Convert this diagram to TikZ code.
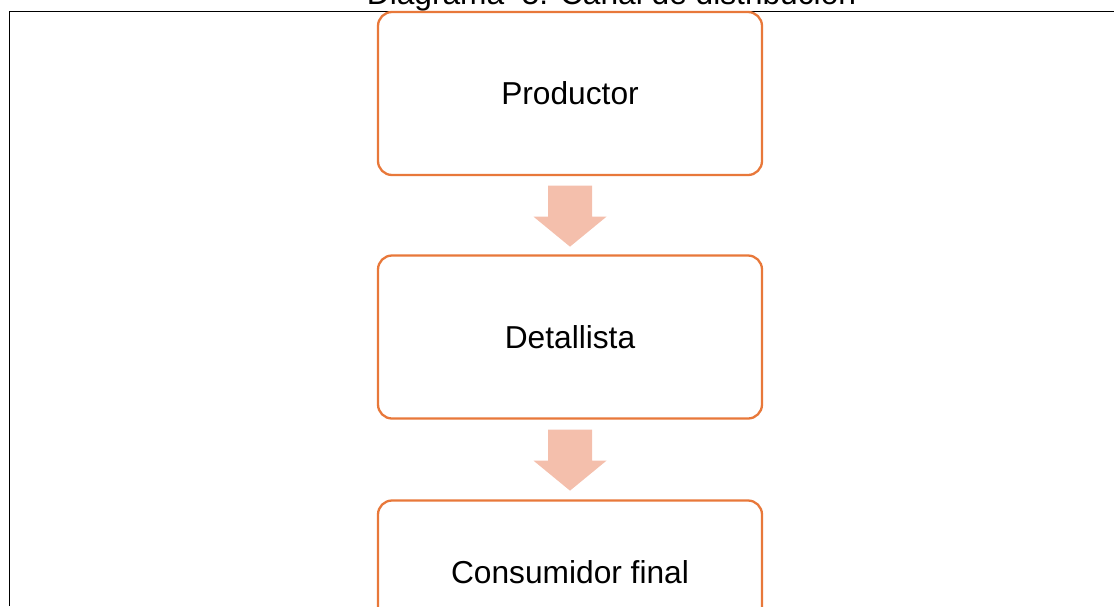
\documentclass[tikz,border=0pt]{standalone}
\usepackage{fontspec}
\setmainfont{Liberation Sans}
\usetikzlibrary{calc}
\definecolor{boxline}{HTML}{E8783A}
\definecolor{arrowfill}{HTML}{F4BFAC}
\tikzset{
  stagebox/.style={draw=boxline, line width=2.3pt, rounded corners=14pt, fill=white,
    minimum width=384pt, minimum height=163pt, inner sep=0pt,
    font=\fontsize{31.7}{38}\selectfont},
  flowarrow/.style={fill=arrowfill, draw=none},
  frameline/.style={draw=black, line width=1.8pt}
}
% block arrow hanging below a coordinate: shaft, then triangular head
\newcommand{\blockarrow}[1]{%
  \fill[flowarrow] ($(#1)+(-22,0)$) -- ($(#1)+(22,0)$) -- ($(#1)+(22,31)$)
    -- ($(#1)+(36.5,31)$) -- ($(#1)+(0,61)$) -- ($(#1)+(-36.5,31)$)
    -- ($(#1)+(-22,31)$) -- cycle;}
\begin{document}
\begin{tikzpicture}[x=1pt, y=-1pt]
  \useasboundingbox (0,0) rectangle (1114,606);
  \clip (0,0) rectangle (1114,606);

  % outer frame (left and top edges)
  \coordinate (frameBL) at (9.5,606);
  \coordinate (frameTL) at (9.5,11.5);
  \coordinate (frameTR) at (1114,11.5);
  \draw[frameline] (frameBL) -- (frameTL) -- (frameTR);

  % caption
  \node[anchor=base, inner sep=0pt, font=\fontsize{31.7}{38}\selectfont]
    (title) at (611.5,4) {Diagrama~~5. Canal de distribución};

  % channel stages
  \node[stagebox] (prod) at (570,93.5) {Productor};
  \node[stagebox] (det) at (570,337) {Detallista};
  \node[stagebox, minimum height=143pt] (cons) at (570,572) {Consumidor final};

  % arrows between stages
  \coordinate (a1) at ($(prod.south)+(0,9.5)$);
  \coordinate (a2) at ($(det.south)+(0,10)$);
  \blockarrow{a1}
  \blockarrow{a2}
\end{tikzpicture}
\end{document}
